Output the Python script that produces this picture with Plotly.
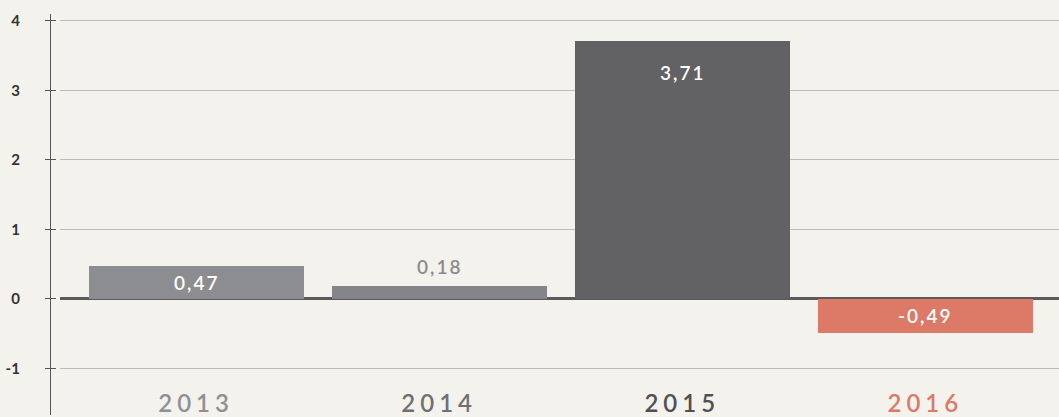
import plotly.graph_objects as go

# data
years = ["2013", "2014", "2015", "2016"]
values = [0.47, 0.18, 3.71, -0.49]
bar_colors = ["#8c8d90", "#848588", "#626264", "#dc7967"]
year_colors = ["#8f9094", "#6f7073", "#505052", "#dc7967"]
y_ticks = [-1, 0, 1, 2, 3, 4]
y_tick_labels = ["-1", "0", "1", "2", "3", "4"]

# label styling per bar: where the value label sits, and its colour
label_pos = ["mid", "above", "top", "mid"]
label_colors = ["white", "#8a8a8c", "white", "white"]

BG = "#f4f2ed"
FONT = "Lato, 'Noto Sans', sans-serif"

fig = go.Figure()
fig.add_trace(go.Bar(
    x=years,
    y=values,
    marker=dict(color=bar_colors, line=dict(width=0)),
    width=0.885,
    hoverinfo="skip",
))

# value labels (x given as category index)
for i, (v, pos, col) in enumerate(zip(values, label_pos, label_colors)):
    txt = f"{v:.2f}".replace(".", ",")
    if pos == "mid":
        y, anchor, shift = v / 2, "middle", 0
    elif pos == "above":
        y, anchor, shift = v, "bottom", 6
    else:
        y, anchor, shift = v, "top", -18
    fig.add_annotation(
        x=i, y=y, xref="x", yref="y",
        text=f'<span style="letter-spacing:2px">{txt}</span>',
        showarrow=False, yanchor=anchor, yshift=shift,
        font=dict(family=FONT, size=19, color=col, weight=600),
    )

year_text = [
    f'<span style="color:{c};letter-spacing:5px">{y}</span>'
    for y, c in zip(years, year_colors)
]

fig.update_layout(
    width=1059,
    height=417,
    margin=dict(l=50, r=0, t=14, b=0),
    paper_bgcolor=BG,
    plot_bgcolor=BG,
    showlegend=False,
    bargap=0,
    font=dict(family=FONT),
    xaxis=dict(
        type="category",
        domain=[10 / 1009, 1],
        range=[-0.56, 3.55],
        anchor="free",
        position=0.07,
        showgrid=False,
        zeroline=False,
        showline=False,
        ticks="",
        tickvals=years,
        ticktext=year_text,
        tickfont=dict(family=FONT, size=24, weight=600),
    ),
    yaxis=dict(
        range=[-1.67, 4.1],
        anchor="free",
        position=0,
        tickvals=y_ticks,
        ticktext=y_tick_labels,
        tickfont=dict(family=FONT, size=15, color="#333333", weight=700),
        ticks="outside",
        ticklen=5,
        tickcolor="#555555",
        tickwidth=1.2,
        ticklabelstandoff=22,
        showline=True,
        linecolor="#555555",
        linewidth=1.2,
        showgrid=True,
        gridcolor="#bdbcb8",
        gridwidth=1.2,
        zeroline=True,
        zerolinecolor="#5a5a5c",
        zerolinewidth=2.5,
    ),
    yaxis2=dict(
        range=[-1.67, 4.1],
        overlaying="y",
        anchor="free",
        position=0,
        tickvals=y_ticks,
        showticklabels=False,
        ticks="inside",
        ticklen=5,
        tickcolor="#555555",
        tickwidth=1.2,
        showgrid=False,
        zeroline=False,
        showline=False,
    ),
)

# invisible trace so yaxis2 is drawn
fig.add_trace(go.Scatter(x=[years[0]], y=[0], yaxis="y2", mode="markers",
                         marker=dict(opacity=0), hoverinfo="skip"))

fig.write_html("out.html", config={"displayModeBar": False},
               post_script="document.body.style.margin='0';")
